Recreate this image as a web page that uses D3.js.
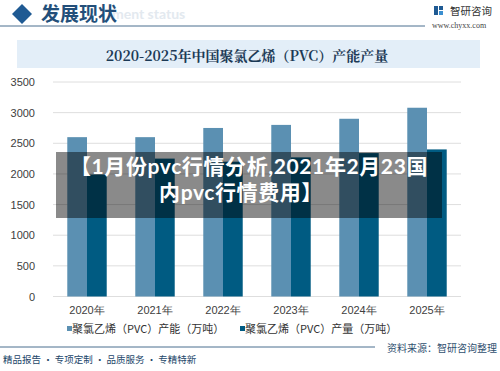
<!DOCTYPE html>
<html>
<head>
<meta charset="utf-8">
<script src="https://cdn.jsdelivr.net/npm/d3@7/dist/d3.min.js"></script>
<style>
  body { margin: 0; background: #fff; }
  svg { display: block; font-family: "Noto Sans CJK SC", "Noto Sans", sans-serif; }
</style>
</head>
<body>
<svg width="500" height="371"></svg>
<script>
// chart data
var years = ["2020年", "2021年", "2022年", "2023年", "2024年", "2025年"];
var seriesNames = ["聚氯乙烯（PVC）产能（万吨）", "聚氯乙烯（PVC）产量（万吨）"];
var capacity = [2600, 2600, 2750, 2800, 2900, 3080];
var output = [1990, 2250, 2200, 2270, 2340, 2400];
var yTicks = [0, 500, 1000, 1500, 2000, 2500, 3000, 3500];
var colors = ["#5b90b2", "#005b82"];

var svg = d3.select("svg");

// header
svg.append("text")
  .attr("x", 112).attr("y", 19)
  .attr("font-size", 14).attr("font-weight", 700)
  .attr("font-family", "Lato, sans-serif")
  .attr("fill", "#e3e9ef")
  .text("ment status");

svg.append("path")
  .attr("d", "M22,4 L32,14 L22,24 L12,14 Z")
  .attr("fill", "#1f5a93");

svg.append("text")
  .attr("x", 41).attr("y", 21)
  .attr("font-size", 19).attr("font-weight", 700)
  .attr("fill", "#234f7a")
  .text("发展现状");

svg.append("line")
  .attr("x1", 0).attr("x2", 425).attr("y1", 26).attr("y2", 26)
  .attr("stroke", "#4a6f8f").attr("stroke-width", 1);

// logo
svg.append("rect").attr("x", 434).attr("y", 6).attr("width", 4).attr("height", 9).attr("fill", "#1f5a93");
svg.append("rect").attr("x", 439).attr("y", 6).attr("width", 4).attr("height", 4).attr("fill", "#1f5a93");
svg.append("rect").attr("x", 439).attr("y", 11).attr("width", 4).attr("height", 4).attr("fill", "#3b8fd0");
svg.append("text")
  .attr("x", 450).attr("y", 15)
  .attr("font-size", 10.5).attr("fill", "#333")
  .text("智研咨询");
svg.append("text")
  .attr("x", 432).attr("y", 28)
  .attr("font-size", 8).attr("font-family", "Liberation Serif, serif")
  .attr("fill", "#444")
  .text("www.chyxx.com");

// title box
svg.append("rect")
  .attr("x", 17).attr("y", 40).attr("width", 463).attr("height", 28)
  .attr("fill", "#e3eef8");
svg.append("text")
  .attr("x", 247).attr("y", 61)
  .attr("text-anchor", "middle")
  .attr("font-size", 14).attr("font-weight", 700)
  .attr("font-family", "Noto Serif CJK SC, Noto Sans CJK SC, serif")
  .attr("fill", "#1c3a56")
  .text("2020-2025年中国聚氯乙烯（PVC）产能产量");

// plot
var x0 = d3.scaleBand().domain(years).range([53, 461])
  .paddingInner(0.42).paddingOuter(0.21);
var x1 = d3.scaleBand().domain([0, 1]).range([0, x0.bandwidth()]);
var y = d3.scaleLinear().domain([0, 3500]).range([296.5, 82]);

svg.append("g")
  .selectAll("line")
  .data(yTicks)
  .join("line")
  .attr("x1", 53).attr("x2", 461)
  .attr("y1", function(d) { return y(d); })
  .attr("y2", function(d) { return y(d); })
  .attr("stroke", "#dedede");

var yAxis = svg.append("g")
  .attr("transform", "translate(40,0)")
  .call(d3.axisLeft(y).tickValues(yTicks).tickFormat(d3.format("d")).tickSize(0).tickPadding(5));
yAxis.select(".domain").remove();
yAxis.selectAll("text")
  .attr("font-size", 11).attr("fill", "#404040")
  .attr("font-family", "Liberation Sans, Arial, sans-serif");

var rows = years.map(function(yr, i) { return { year: yr, vals: [capacity[i], output[i]] }; });

svg.append("g")
  .selectAll("g")
  .data(rows)
  .join("g")
  .attr("transform", function(d) { return "translate(" + x0(d.year) + ",0)"; })
  .selectAll("rect")
  .data(function(d) { return d.vals; })
  .join("rect")
  .attr("x", function(d, i) { return x1(i); })
  .attr("width", x1.bandwidth())
  .attr("y", function(d) { return y(d); })
  .attr("height", function(d) { return y(0) - y(d); })
  .attr("fill", function(d, i) { return colors[i]; });

var xAxis = svg.append("g")
  .attr("transform", "translate(0,303)")
  .call(d3.axisBottom(x0).tickSize(0).tickPadding(3));
xAxis.select(".domain").remove();
xAxis.selectAll("text")
  .attr("font-size", 11).attr("fill", "#404040");

// legend
var legendX = [67, 240];
var legend = svg.append("g")
  .selectAll("g")
  .data(seriesNames)
  .join("g")
  .attr("transform", function(d, i) { return "translate(" + legendX[i] + ",329)"; });
legend.append("rect")
  .attr("x", 0).attr("y", -3).attr("width", 5).attr("height", 5)
  .attr("fill", function(d, i) { return colors[i]; });
legend.append("text")
  .attr("x", 5).attr("y", 4)
  .attr("font-size", 11).attr("fill", "#333")
  .text(function(d) { return d; });

// footer
svg.append("line")
  .attr("x1", 0).attr("x2", 375).attr("y1", 347).attr("y2", 347)
  .attr("stroke", "#4a6f8f").attr("stroke-width", 1);
svg.append("text")
  .attr("x", 497).attr("y", 352)
  .attr("text-anchor", "end")
  .attr("font-size", 10).attr("fill", "#2f4f6f")
  .text("资料来源：智研咨询整理");
svg.append("text")
  .attr("x", 3).attr("y", 363)
  .attr("font-size", 9.5).attr("fill", "#24476a")
  .text("精品报告 · 专项定制 · 品质服务 · 专精特新");

// overlay caption
svg.append("rect")
  .attr("x", 56).attr("y", 152).attr("width", 386).attr("height", 66)
  .attr("fill", "rgba(0,0,0,0.46)");
var caption = ["【1月份pvc行情分析,2021年2月23国", "内pvc行情费用】"];
svg.append("g")
  .selectAll("text")
  .data(caption)
  .join("text")
  .attr("x", function(d, i) { return i ? 241 : 249; })
  .attr("y", function(d, i) { return 174 + i * 26; })
  .attr("text-anchor", "middle")
  .attr("font-size", 21).attr("font-weight", 700)
  .attr("letter-spacing", 0.6)
  .attr("font-family", "Lato, 'Noto Sans CJK SC', sans-serif")
  .attr("fill", "#fff")
  .text(function(d) { return d; });
</script>
</body>
</html>
